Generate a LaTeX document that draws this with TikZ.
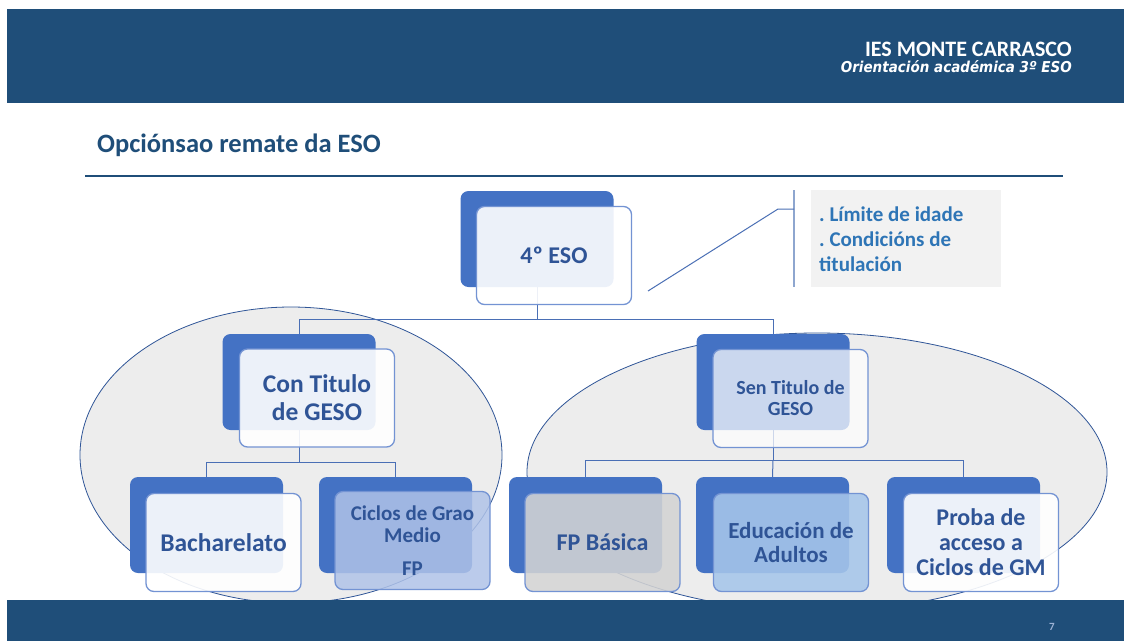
\documentclass[tikz,border=0pt]{standalone}
\usepackage{fontspec}
\setmainfont{Carlito}
\newfontfamily\dvs[FakeStretch=0.9]{DejaVu Sans}
\definecolor{band}{HTML}{1F4E79}
\definecolor{nodetext}{HTML}{2F5496}
\definecolor{backblue}{HTML}{4472C4}
\definecolor{frontline}{HTML}{7393D3}
\definecolor{ellfill}{HTML}{EDEDED}
\definecolor{ellline}{HTML}{2F5597}
\definecolor{conn}{HTML}{4A6FB5}
\definecolor{calloutfill}{HTML}{F2F2F2}
\definecolor{callouttext}{HTML}{2E75B6}
\definecolor{bracket}{HTML}{8EA6CF}
\definecolor{pagenum}{HTML}{9DB3D6}
\definecolor{fpgray}{HTML}{D3D3D3}
\definecolor{edublue}{HTML}{A6C6EA}
\definecolor{cicblue}{HTML}{B0C3E8}
\begin{document}
\frenchspacing
\begin{tikzpicture}[x=1pt,y=-1pt,
  back/.style={fill=backblue, rounded corners=8pt, minimum width=153, minimum height=96, inner sep=0pt},
  front/.style={draw=frontline, line width=1.3pt, rounded corners=8pt, minimum width=155, minimum height=98, inner sep=0pt, align=center, text=nodetext, text opacity=1},
  fwhite/.style={fill=white, fill opacity=0.9},
  fsen/.style={fill=white, fill opacity=0.72},
  ffp/.style={fill=fpgray, fill opacity=0.88},
  fedu/.style={fill=edublue, fill opacity=0.88},
  fcic/.style={fill=cicblue, fill opacity=0.85},
  big/.style={font=\fontsize{24}{28}\selectfont\bfseries},
  bigger/.style={font=\fontsize{25.5}{28}\selectfont\bfseries},
  mid/.style={font=\fontsize{23}{24}\selectfont\bfseries},
  small/.style={font=\fontsize{20}{21}\selectfont\bfseries},
  connector/.style={draw=conn, line width=1pt},
  ell/.style={fill=ellfill, draw=ellline, line width=0.8pt}
]
\useasboundingbox (0,0) rectangle (1132,641);
\fill[white] (0,0) rectangle (1132,641);
% header band
\fill[band] (7,9) rectangle (1124,103);
\node[anchor=base east, text=white, font=\fontsize{22}{24}\selectfont\bfseries, inner sep=0pt] (school) at (1072,56.5) {IES MONTE CARRASCO};
\node[anchor=base east, text=white, font=\dvs\fontsize{15}{17}\selectfont\bfseries\itshape, inner sep=0pt] (subtitle) at (1072,72.5) {Orientación académica 3º ESO};
% title
\node[anchor=base west, text=band, font=\fontsize{26.5}{30}\selectfont\bfseries, inner sep=0pt] (title) at (97,152) {Opciónsao remate da ESO};
\coordinate (tl1) at (85,176);
\coordinate (tl2) at (1063,176);
\draw[band, line width=2pt] (tl1) -- (tl2);
% ellipses
\draw[ell] (291,455) ellipse [x radius=211, y radius=148];
\draw[ell] (817,472) ellipse [x radius=290, y radius=139];
% back boxes
\node[back] (esoB) at (537,239) {};
\node[back] (conB) at (299,382) {};
\node[back] (senB) at (773,382) {};
\node[back] (bacB) at (206.5,525) {};
\node[back] (cicB) at (395.5,525) {};
\node[back] (fpbB) at (585.5,525) {};
\node[back] (eduB) at (772.5,525) {};
\node[back] (proB) at (963.5,525) {};
% connectors
\coordinate (j1) at (537,319);
\coordinate (j2) at (299,462);
\coordinate (j3) at (773,460);
\draw[connector] (esoB.south) -- (j1) -| (conB.north);
\draw[connector] (j1) -| (senB.north);
\draw[connector] (conB.south) -- (j2) -| (bacB.north);
\draw[connector] (j2) -| (cicB.north);
\draw[connector] (senB.south) -- (j3) -| (fpbB.north);
\draw[connector] (j3) -- (eduB.north);
\draw[connector] (j3) -| (proB.north);
% front boxes
\node[front, fwhite, big] (esoF) at (554,255.5) {4º ESO};
\node[front, fwhite, bigger] (conF) at (317,398) {Con Titulo\\de GESO};
\node[front, fsen, small] (senF) at (790.5,398.5) {Sen Titulo de\\GESO};
\node[front, fwhite, bigger] (bacF) at (223.5,542.5) {Bacharelato};
\node[front, fcic, font=\fontsize{21}{22}\selectfont\bfseries] (cicF) at (412.5,540.5) {Ciclos de Grao\\Medio\\[11pt]FP};
\node[front, ffp, big] (fpbF) at (602.5,542.5) {FP Básica};
\node[front, fedu, mid] (eduF) at (791,542.5) {Educación de\\Adultos};
\node[front, fwhite, font=\fontsize{24}{25}\selectfont\bfseries] (proF) at (981,542.5) {Proba de\\acceso a\\Ciclos de GM};
% callout
\node[fill=calloutfill, minimum width=190, minimum height=97, inner sep=0pt, anchor=north west] (noteBox) at (811,190) {};
\node[anchor=west, align=left, inner sep=0pt, text=callouttext, font=\fontsize{21}{25}\selectfont\bfseries] (noteText) at ([xshift=8pt,yshift=-1pt]noteBox.west) {. Límite de idade\\. Condicións de\\titulación};
\coordinate (br1) at (794,190);
\coordinate (br2) at (794,287);
\coordinate (cA) at (648,291);
\coordinate (cK) at (778,209);
\coordinate (cJ) at (794,209);
\draw[bracket, line width=1.6pt] (br1) -- (br2);
\draw[conn, line width=1pt] (cA) -- (cK) -- (cJ);
% footer band
\fill[band] (7,600) rectangle (1124,641);
\node[text=pagenum, font=\fontsize{11}{12}\selectfont\bfseries, inner sep=0pt] (pg) at (1052,627) {7};
\end{tikzpicture}
\end{document}
